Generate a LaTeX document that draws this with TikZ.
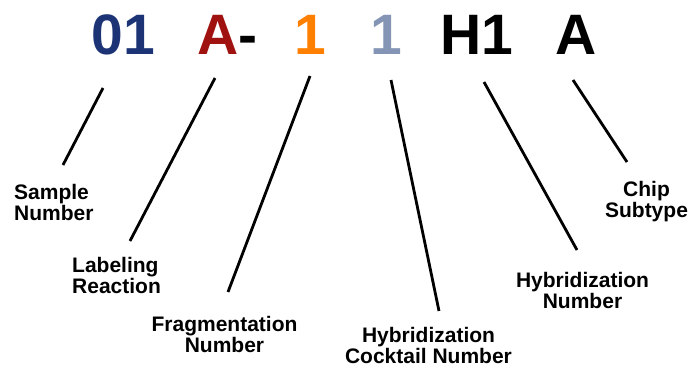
\documentclass[tikz,border=0pt]{standalone}
\usepackage{fontspec}
\setmainfont{Liberation Sans}
\usepackage{tikz}
\usetikzlibrary{positioning}

\definecolor{navyS}{RGB}{28,52,118}
\definecolor{redL}{RGB}{160,18,16}
\definecolor{orangeF}{RGB}{255,128,0}
\definecolor{greyC}{RGB}{132,148,180}

\tikzset{
big/.style={font=\fontsize{57}{60}\selectfont\bfseries, inner sep=0pt, anchor=base},
lbl/.style={font=\fontsize{21}{21}\selectfont\bfseries, inner sep=0pt, align=center, anchor=base},
tick/.style={draw, line width=2.8pt}
}

\begin{document}
\begin{tikzpicture}[x=1pt,y=-1pt]
\useasboundingbox (0,0) rectangle (688,369);

\node[big,text=navyS](s) at (123.5,55){01};
\node[big,anchor=base west](l) at (197,55){\textcolor{redL}{A}-};
\node[big,text=orangeF](f) at (310,55){1};
\node[big,text=greyC](c) at (386,55){1};
\node[big](h) at (477,55){H1};
\node[big](t) at (576.5,55){A};

% base = last line
\node[lbl,align=left,anchor=base west](sample) at (14,220){Sample\\Number};
\node[lbl,align=left,anchor=base west](labeling) at (72,293){Labeling\\Reaction};
\node[lbl](frag) at (224.5,352){Fragmentation\\Number};
\node[lbl](cocktail) at (428.5,363){Hybridization\\Cocktail Number};
\node[lbl](hyb) at (582.5,308){Hybridization\\Number};
\node[lbl](chip) at (646.5,217){Chip\\Subtype};

% line ends
\coordinate (s1) at (103,88);
\coordinate (s2) at (63,165);
\coordinate (l1) at (215,78);
\coordinate (l2) at (130,241);
\coordinate (f1) at (310,76);
\coordinate (f2) at (228,292);
\coordinate (c1) at (391,80);
\coordinate (c2) at (439,311);
\coordinate (h1) at (484,82);
\coordinate (h2) at (577,250);
\coordinate (t1) at (573,80);
\coordinate (t2) at (627,162);

\path
(s1) edge[tick] (s2)
(l1) edge[tick] (l2)
(f1) edge[tick] (f2)
(c1) edge[tick] (c2)
(h1) edge[tick] (h2)
(t1) edge[tick] (t2);
\end{tikzpicture}
\end{document}
